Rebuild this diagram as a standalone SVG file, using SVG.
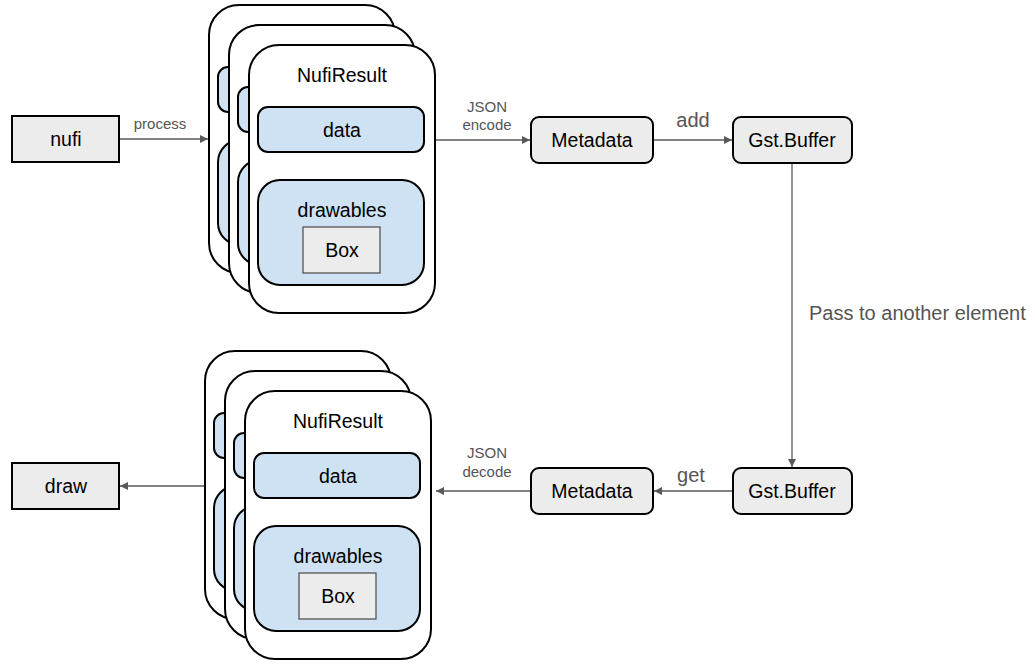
<svg xmlns="http://www.w3.org/2000/svg" xmlns:xlink="http://www.w3.org/1999/xlink" width="1035" height="666" viewBox="0 0 1035 666">
<style>
text{font-family:"Liberation Sans",Arial,sans-serif;fill:#000;text-anchor:middle}
.card{fill:#fff;stroke:#000;stroke-width:2}
.blue{fill:#cfe2f3;stroke:#000;stroke-width:2}
.gbox{fill:#ececec;stroke:#555;stroke-width:1.3}
.node{fill:#ececec;stroke:#000;stroke-width:2}
.t18{font-size:19.5px}
.lbl{font-size:15px;fill:#555}
.lbl2{font-size:20px;fill:#555}
.conn{stroke:#595959;stroke-width:1.3;fill:none}
</style>
<defs>
<marker id="arr" viewBox="0 0 10 10" refX="10" refY="5" markerWidth="10" markerHeight="8" markerUnits="userSpaceOnUse" orient="auto">
<path d="M0,0 L10,5 L0,10 z" fill="#595959"/>
</marker>
<g id="cardBack">
<rect class="card" x="0" y="0" width="186" height="268" rx="30"/>
<rect class="blue" x="9" y="62" width="166" height="45" rx="10"/>
<rect class="blue" x="9" y="135" width="166" height="105" rx="22"/>
</g>
</defs>

<g id="connectors">
<line class="conn" x1="120" y1="139" x2="208" y2="139" marker-end="url(#arr)"/>
<text class="lbl" x="160" y="129">process</text>
<line class="conn" x1="436" y1="140" x2="530" y2="140" marker-end="url(#arr)"/>
<text class="lbl" x="487" y="112">JSON</text>
<text class="lbl" x="487" y="130">encode</text>
<line class="conn" x1="654" y1="140" x2="732" y2="140" marker-end="url(#arr)"/>
<text class="lbl2" x="693" y="127">add</text>
<line class="conn" x1="792" y1="164" x2="792" y2="467" marker-end="url(#arr)"/>
<text class="lbl2" x="809" y="320" style="text-anchor:start">Pass to another element</text>
<line class="conn" x1="732" y1="491" x2="654" y2="491" marker-end="url(#arr)"/>
<text class="lbl2" x="691" y="482">get</text>
<line class="conn" x1="530" y1="491" x2="436" y2="491" marker-end="url(#arr)"/>
<text class="lbl" x="487" y="458">JSON</text>
<text class="lbl" x="487" y="477">decode</text>
<line class="conn" x1="210" y1="486" x2="120" y2="486" marker-end="url(#arr)"/>
</g>

<g id="nufi">
<rect class="node" x="12" y="116" width="107" height="46"/>
<text class="t18" x="66" y="146">nufi</text>
</g>

<g id="draw">
<rect class="node" x="12" y="463" width="107" height="46"/>
<text class="t18" x="66" y="493">draw</text>
</g>

<g id="nufiResultTop">
<use xlink:href="#cardBack" x="209" y="5"/>
<use xlink:href="#cardBack" x="229" y="25"/>
<g transform="translate(249,45)">
<rect class="card" x="0" y="0" width="186" height="268" rx="30"/>
<text class="t18" x="93" y="37">NufiResult</text>
<rect class="blue" x="9" y="62" width="166" height="45" rx="10"/>
<text class="t18" x="93" y="92">data</text>
<rect class="blue" x="9" y="135" width="166" height="105" rx="22"/>
<text class="t18" x="93" y="172">drawables</text>
<rect class="gbox" x="54" y="182" width="77" height="46"/>
<text class="t18" x="93" y="212">Box</text>
</g>
</g>

<g id="nufiResultBottom">
<use xlink:href="#cardBack" x="205" y="351"/>
<use xlink:href="#cardBack" x="225" y="371"/>
<g transform="translate(245,391)">
<rect class="card" x="0" y="0" width="186" height="268" rx="30"/>
<text class="t18" x="93" y="37">NufiResult</text>
<rect class="blue" x="9" y="62" width="166" height="45" rx="10"/>
<text class="t18" x="93" y="92">data</text>
<rect class="blue" x="9" y="135" width="166" height="105" rx="22"/>
<text class="t18" x="93" y="172">drawables</text>
<rect class="gbox" x="54" y="182" width="77" height="46"/>
<text class="t18" x="93" y="212">Box</text>
</g>
</g>

<g id="metadataTop">
<rect class="node" x="531" y="117" width="122" height="46" rx="8"/>
<text class="t18" x="592" y="147">Metadata</text>
</g>
<g id="gstBufferTop">
<rect class="node" x="733" y="117" width="119" height="46" rx="8"/>
<text class="t18" x="792" y="147">Gst.Buffer</text>
</g>
<g id="metadataBottom">
<rect class="node" x="531" y="468" width="122" height="46" rx="8"/>
<text class="t18" x="592" y="498">Metadata</text>
</g>
<g id="gstBufferBottom">
<rect class="node" x="733" y="468" width="119" height="46" rx="8"/>
<text class="t18" x="792" y="498">Gst.Buffer</text>
</g>
</svg>
